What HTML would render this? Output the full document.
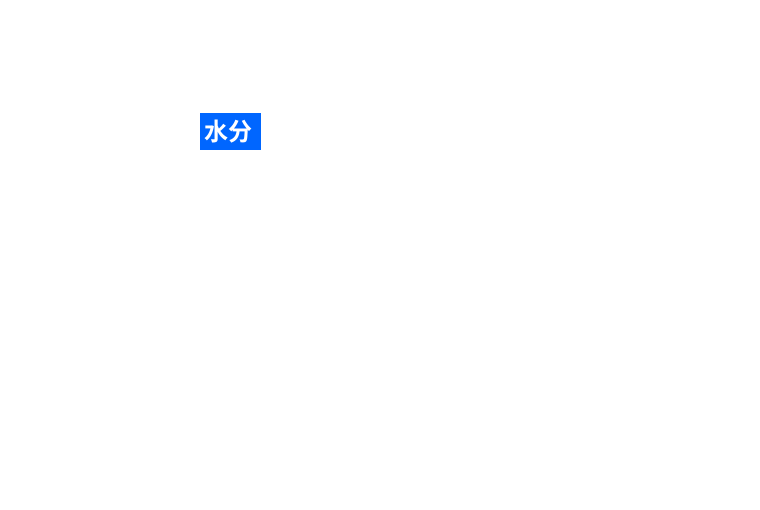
<!DOCTYPE html>
<html><head><meta charset="utf-8"><style>
html,body{margin:0;padding:0;background:#fff;width:760px;height:510px;overflow:hidden}
.b{position:absolute;left:200px;top:113px;width:57px;height:37px;padding-left:4px;background:#0066ff;color:#fff;font-family:"Liberation Sans","Noto Sans CJK SC",sans-serif;font-size:24px;font-weight:bold;line-height:39px}
</style></head><body><div class="b">水分</div></body></html>
